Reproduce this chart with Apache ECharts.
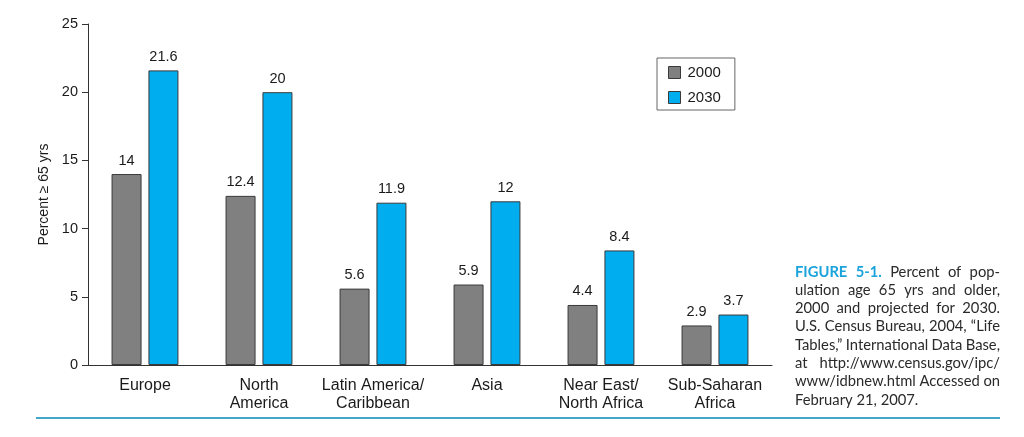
<!DOCTYPE html>
<html><head><meta charset="utf-8">
<script src="https://cdn.jsdelivr.net/npm/echarts@6/dist/echarts.min.js"></script>
<style>html,body{margin:0;padding:0;background:#fff}#c{width:1024px;height:437px}</style>
</head><body><div id="c"></div>
<script>
const categories = ['Europe', 'North\nAmerica', 'Latin America/\nCaribbean', 'Asia', 'Near East/\nNorth Africa', 'Sub-Saharan\nAfrica'];
const values2000 = [14, 12.4, 5.6, 5.9, 4.4, 2.9];
const values2030 = [21.6, 20, 11.9, 12, 8.4, 3.7];
const seriesNames = ['2000', '2030'];
const yTicks = [0, 5, 10, 15, 20, 25];
const captionLines = [
  ['FIGURE 5-1.', 'Percent of pop-'],
  ['ulation age 65 yrs and older,'],
  ['2000 and projected for 2030.'],
  ['U.S. Census Bureau, 2004, “Life'],
  ['Tables,” International Data Base,'],
  ['at http://www.census.gov/ipc/'],
  ['www/idbnew.html Accessed on'],
  ['February 21, 2007.']
];

const FONT = 'Liberation Sans, Arial, sans-serif';
const chart = echarts.init(document.getElementById('c'));

// caption: justified lines
const cv = document.createElement('canvas').getContext('2d');
function measure(t, f){ cv.font = f; return cv.measureText(t).width; }
const capX = 795, capW = 205, capY0 = 279, capLH = 18.3;
let capSize = 16;
const fontOf = (b, s) => (b ? 'bold ' : '') + s + 'px Lato, "DejaVu Sans", sans-serif';
function fitsAll(s){
  return captionLines.every(parts => {
    let tot = 0, n = 0;
    parts.forEach((p, pi) => p.split(' ').forEach(w => { tot += measure(w, fontOf(pi === 0 && parts === captionLines[0], s)); n++; }));
    return tot + (n - 1) * s * 0.22 <= capW;
  });
}
while (capSize > 10 && !fitsAll(capSize)) capSize -= 0.25;
const capElems = [];
captionLines.forEach((parts, li) => {
  const words = [];
  parts.forEach((p, pi) => {
    const bold = (li === 0 && pi === 0);
    p.split(' ').forEach(w => words.push({t: w, bold}));
  });
  const last = li === captionLines.length - 1;
  const widths = words.map(w => measure(w.t, fontOf(w.bold, capSize)));
  const total = widths.reduce((a, b) => a + b, 0);
  const gap = last ? measure(' ', fontOf(false, capSize)) : (capW - total) / (words.length - 1);
  let x = capX;
  words.forEach((w, i) => {
    capElems.push({
      type: 'text', left: x, top: capY0 + li * capLH - capSize,
      style: { text: w.t, font: fontOf(w.bold, capSize), fill: w.bold ? '#1ba3dc' : '#2a2a2a' }
    });
    x += widths[i] + gap;
  });
});

const barStyle = (c) => ({ color: c, borderColor: '#3a3a3a', borderWidth: 1 });
const labelCfg = { show: true, position: 'top', distance: 6, color: '#1a1a1a', fontSize: 14.5, fontFamily: FONT };

chart.setOption({
  animation: false,
  grid: { left: 88, right: 252, top: 24, bottom: 72 },
  legend: {
    data: seriesNames, orient: 'vertical', left: 657, top: 58,
    icon: 'rect', itemWidth: 12, itemHeight: 12, itemGap: 10,
    padding: [7, 14, 5, 11],
    borderColor: '#666', borderWidth: 1, borderRadius: 0,
    textStyle: { fontSize: 15, fontFamily: FONT, color: '#1a1a1a', padding: [0, 0, 0, 2] },
    itemStyle: { borderColor: '#3a3a3a', borderWidth: 1 }
  },
  xAxis: {
    type: 'category', data: categories,
    axisLine: { lineStyle: { color: '#333' } },
    axisTick: { show: false },
    axisLabel: { color: '#1a1a1a', fontSize: 16, fontFamily: FONT, margin: 12, lineHeight: 18, interval: 0 }
  },
  yAxis: {
    type: 'value', min: 0, max: 25, interval: 5,
    name: 'Percent ≥ 65 yrs', nameLocation: 'middle', nameGap: 37, nameRotate: 90,
    nameTextStyle: { fontSize: 14, fontFamily: FONT, color: '#1a1a1a' },
    axisLine: { show: true, lineStyle: { color: '#333' } },
    axisTick: { show: true, length: 6, lineStyle: { color: '#333' } },
    axisLabel: { color: '#1a1a1a', fontSize: 14.5, fontFamily: FONT, margin: 10,
      formatter: v => yTicks.includes(v) ? String(v) : '' },
    splitLine: { show: false }
  },
  series: [
    { name: seriesNames[0], type: 'bar', data: values2000, barWidth: 30, barGap: '23%',
      itemStyle: barStyle('#808080'), label: labelCfg },
    { name: seriesNames[1], type: 'bar', data: values2030, barWidth: 30,
      itemStyle: barStyle('#00aeef'), label: labelCfg }
  ],
  graphic: [
    { type: 'line', shape: { x1: 36, y1: 418, x2: 1000, y2: 418 }, style: { stroke: '#45a6cc', lineWidth: 2 } },
    ...capElems
  ]
});
</script></body></html>
